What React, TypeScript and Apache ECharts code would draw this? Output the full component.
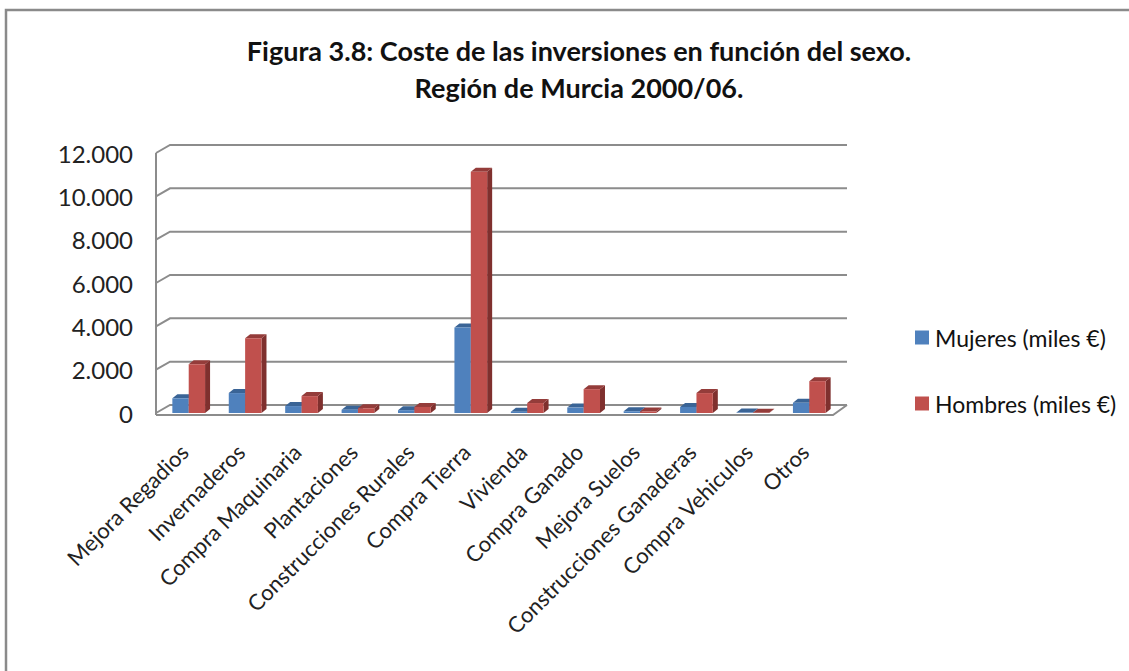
import React, { useEffect, useRef } from "react";
import * as echarts from "echarts";

const titleLines = "Figura 3.8: Coste de las inversiones en función del sexo.\nRegión de Murcia 2000/06.";
const categories = ["Mejora Regadios","Invernaderos","Compra Maquinaria","Plantaciones","Construcciones Rurales","Compra Tierra","Vivienda","Compra Ganado","Mejora Suelos","Construcciones Ganaderas","Compra Vehiculos","Otros"];
const mujeres = [680,920,320,150,130,3950,60,250,80,280,20,470];
const hombres = [2250,3450,780,220,280,11130,460,1100,70,920,10,1470];
const gridValues = [0,2000,4000,6000,8000,10000,12000];
const F = "Lato, 'Open Sans', sans-serif";

function bar3d(front: string, top: string, side: string, seriesIndex: number) {
  return (params: any, api: any) => {
    const cat = api.value(0);
    const val = api.value(1);
    const base = api.coord([cat, 0]);
    const tip = api.coord([cat, val]);
    const w = api.size([1, 0])[0] * 0.29;
    const x0 = base[0] + 4.5 + (seriesIndex === 0 ? -w : 0);
    const x1 = x0 + w;
    const y0 = base[1];
    const y1 = tip[1];
    const dx = 5, dy = 4;
    return {
      type: "group",
      children: [
        { type: "polygon", shape: { points: [[x1,y0],[x1+dx,y0-dy],[x1+dx,y1-dy],[x1,y1]] }, style: { fill: side } },
        { type: "polygon", shape: { points: [[x0,y1],[x0+dx,y1-dy],[x1+dx,y1-dy],[x1,y1]] }, style: { fill: top } },
        { type: "rect", shape: { x: x0, y: y1, width: w, height: y0-y1 }, style: { fill: front } },
      ],
    };
  };
}

export default function App() {
  const ref = useRef<HTMLDivElement>(null);
  useEffect(() => {
    document.body.style.margin = "0";
    const chart = echarts.init(ref.current!, null, { renderer: "svg" });
    const dx = 14, dy = 8;
    chart.setOption({
      animation: false,
      backgroundColor: "#ffffff",
      title: {
        text: titleLines,
        left: 574, top: 27, textAlign: "center",
        textStyle: { fontFamily: F, fontSize: 27, fontWeight: "bold", color: "#111", lineHeight: 37, align: "center" },
      },
      legend: {
        orient: "vertical", left: 910, top: 321, itemGap: 43, itemWidth: 14, itemHeight: 14,
        icon: "rect", selectedMode: false,
        textStyle: { fontFamily: F, fontSize: 23, color: "#111", padding: [0,0,0,1] },
        data: [
          { name: "Mujeres (miles €)", itemStyle: { color: "#4F81BD" } },
          { name: "Hombres (miles €)", itemStyle: { color: "#C0504D" } },
        ],
      },
      grid: { left: 156, right: 296, top: 153, bottom: 258 },
      xAxis: {
        type: "category", data: categories,
        axisLine: { show: false }, axisTick: { show: false },
        axisLabel: { rotate: 45, interval: 0, margin: 35, fontFamily: F, fontSize: 22, color: "#222" },
      },
      yAxis: {
        type: "value", min: 0, max: 12000, interval: 2000,
        splitLine: { show: false }, axisLine: { show: false }, axisTick: { show: false },
        axisLabel: {
          margin: 23, fontFamily: F, fontSize: 24, color: "#222",
          formatter: (v: number) => v === 0 ? "0" : `${v / 1000}.000`,
        },
      },
      series: [
        {
          type: "custom", silent: true, z: 1, name: "walls",
          data: gridValues.map((v) => [0, v]),
          encode: { x: 0, y: 1 },
          renderItem: (params: any, api: any) => {
            const v = api.value(1);
            const a = api.coord([0, v]);
            const step = api.size([1, 0])[0];
            const xL = a[0] - step / 2;
            const xR = xL + step * categories.length;
            const y = a[1];
            const style = { stroke: "#8c8c8c", lineWidth: 2, fill: "none" };
            const children: any[] = [
              { type: "polyline", shape: { points: [[xL, y], [xL + dx, y - dy], [xR + dx, y - dy]] }, style },
            ];
            if (v === 0) {
              const top = api.coord([0, 12000])[1];
              children.push({ type: "line", shape: { x1: xL, y1: y + 2, x2: xL, y2: top }, style });
              children.push({ type: "polyline", shape: { points: [[xL, y + 2], [xR, y + 2], [xR + dx, y - dy]] }, style });
            }
            return { type: "group", children };
          },
        },
        {
          type: "custom", name: "Mujeres (miles €)", z: 2, silent: true,
          data: mujeres.map((v, i) => [i, v]), encode: { x: 0, y: 1 },
          itemStyle: { color: "#4F81BD" },
          renderItem: bar3d("#4F81BD", "#3A6496", "#37608F", 0),
        },
        {
          type: "custom", name: "Hombres (miles €)", z: 3, silent: true,
          data: hombres.map((v, i) => [i, v]), encode: { x: 0, y: 1 },
          itemStyle: { color: "#C0504D" },
          renderItem: bar3d("#C0504D", "#943C3A", "#7F302E", 1),
        },
      ],
      graphic: [
        { type: "rect", z: -1, silent: true, shape: { x: 6, y: 10, width: 1140, height: 700 }, style: { fill: "none", stroke: "#8a8a8a", lineWidth: 2.5 } },
      ],
    });
    return () => chart.dispose();
  }, []);
  return <div ref={ref} style={{ width: 1129, height: 671 }} />;
}
